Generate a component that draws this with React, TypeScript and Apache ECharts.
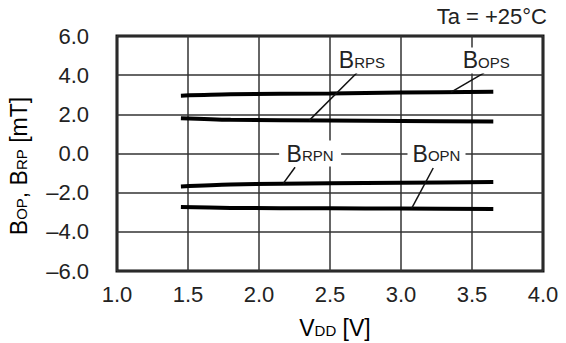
import React, { useEffect, useRef } from "react";
import * as echarts from "echarts";

const vdd = [1.45, 1.8, 2.5, 3.0, 3.65];
const bops = [2.95, 3.02, 3.07, 3.11, 3.15];
const brps = [1.8, 1.72, 1.68, 1.66, 1.64];
const brpn = [-1.68, -1.58, -1.52, -1.49, -1.46];
const bopn = [-2.73, -2.78, -2.8, -2.81, -2.83];

const xTicks = { min: 1, max: 4, interval: 0.5 };
const yTicks = { min: -6, max: 6, interval: 2 };

// label anchors and leader lines in data units
const labelNames = [
  ["B", "RPS"],
  ["B", "OPS"],
  ["B", "RPN"],
  ["B", "OPN"],
];
const labelAt = [
  [2.725, 4.75],
  [3.6, 4.75],
  [2.36, 0],
  [3.25, 0],
];
const labelBox = [
  [56, 26],
  [56, 26],
  [62, 26],
  [58, 26],
];
const leaderFrom = [
  [2.69, 4.12],
  [3.585, 4.12],
  [2.254, -0.7],
  [3.227, -0.74],
];
const leaderTo = [
  [2.354, 1.69],
  [3.35, 3.12],
  [2.17, -1.54],
  [3.075, -2.8],
];

const FONT = "'Liberation Sans', Arial, Helvetica, sans-serif";

export default function App() {
  const ref = useRef<HTMLDivElement>(null);
  useEffect(() => {
    if (!ref.current) return;
    const chart = echarts.init(ref.current, null, { renderer: "svg" });
    const seriesVals = [brps, bops, brpn, bopn];
    const fmt = (v: number) => (v < 0 ? "\u2013" + Math.abs(v).toFixed(1) : v.toFixed(1));
    const rich = {
      b: { fontSize: 23, fontFamily: FONT, color: "#222", verticalAlign: "bottom" as const },
      s: { fontSize: 15, fontFamily: FONT, color: "#222", verticalAlign: "bottom" as const, padding: [0, 0, 2, 0] },
    };
    chart.setOption({
      animation: false,
      backgroundColor: "#fff",
      grid: {
        left: 117,
        right: 23,
        top: 36,
        bottom: 72,
        show: true,
        borderColor: "#111",
        borderWidth: 3,
        backgroundColor: "transparent",
      },
      xAxis: {
        type: "value",
        min: xTicks.min,
        max: xTicks.max,
        interval: xTicks.interval,
        axisLine: { show: false },
        axisTick: { show: false },
        splitLine: { show: true, lineStyle: { color: "#333", width: 1.5 } },
        axisLabel: {
          margin: 12,
          fontSize: 22,
          fontFamily: FONT,
          color: "#222",
          formatter: fmt,
        },
      },
      yAxis: {
        type: "value",
        min: yTicks.min,
        max: yTicks.max,
        interval: yTicks.interval,
        axisLine: { show: false },
        axisTick: { show: false },
        splitLine: { show: true, lineStyle: { color: "#333", width: 1.5 } },
        axisLabel: {
          margin: 28,
          fontSize: 22,
          fontFamily: FONT,
          color: "#222",
          formatter: fmt,
        },
      },
      series: seriesVals.map((vals, i) => ({
        type: "line",
        data: vdd.map((x, j) => [x, vals[j]]),
        smooth: 0.3,
        showSymbol: false,
        symbol: "none",
        lineStyle: { color: "#000", width: 4 },
        z: 3,
        markLine: {
          silent: true,
          symbol: ["none", "none"],
          lineStyle: { color: "#111", width: 1.5, type: "solid" },
          label: { show: false },
          data: [[{ coord: leaderFrom[i] }, { coord: leaderTo[i] }]],
        },
        markPoint: {
          silent: true,
          symbol: "rect",
          symbolSize: labelBox[i],
          itemStyle: { color: "#fff" },
          label: {
            show: true,
            position: "inside",
            formatter: `{b|${labelNames[i][0]}}{s|${labelNames[i][1]}}`,
            rich,
          },
          data: [{ coord: labelAt[i] }],
        },
      })),
      graphic: [
        {
          type: "text",
          x: 547,
          y: 5,
          style: {
            text: "Ta = +25\u00B0C",
            font: `22px ${FONT}`,
            fill: "#222",
            align: "right",
            verticalAlign: "top",
          },
        },
        {
          type: "text",
          x: 335,
          y: 328,
          style: {
            text: "{b|V}{s|DD}{b| [V]}",
            rich,
            align: "center",
            verticalAlign: "middle",
          },
        },
        {
          type: "text",
          x: 19,
          y: 166,
          rotation: Math.PI / 2,
          style: {
            text: "{b|B}{s|OP}{b|, B}{s|RP}{b| [mT]}",
            rich,
            align: "center",
            verticalAlign: "middle",
          },
        },
      ],
    });
    return () => chart.dispose();
  }, []);
  return (
    <div
      ref={ref}
      style={{ position: "absolute", left: 0, top: 0, width: 566, height: 343 }}
    />
  );
}
